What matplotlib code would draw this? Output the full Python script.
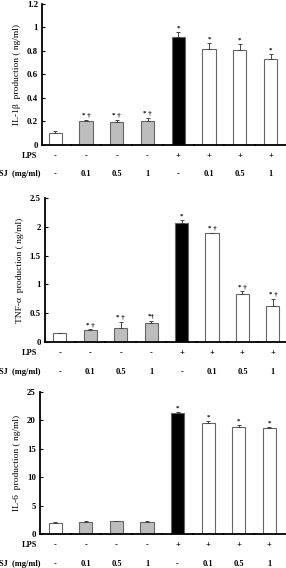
import numpy as np
import matplotlib
matplotlib.use("Agg")
import matplotlib.pyplot as plt
import matplotlib.transforms as mtransforms

plt.rcParams['font.family'] = ['Liberation Serif', 'DejaVu Serif']
plt.rcParams['font.weight'] = 'bold'

lps_labels = ['-', '-', '-', '-', '+', '+', '+', '+']
sj_labels = ['-', '0.1', '0.5', '1', '-', '0.1', '0.5', '1']
bar_colors = ['white', '#bdbdbd', '#bdbdbd', '#bdbdbd', 'black', 'white', 'white', 'white']

il1b = [0.10, 0.20, 0.195, 0.20, 0.92, 0.82, 0.81, 0.73]
il1b_err = [0.015, 0.015, 0.02, 0.03, 0.04, 0.05, 0.05, 0.045]
il1b_sig = ['', '* \u2020', '* \u2020', '* \u2020', '*', '*', '*', '*']

tnf = [0.15, 0.20, 0.25, 0.33, 2.07, 1.90, 0.84, 0.63]
tnf_err = [0.01, 0.02, 0.10, 0.04, 0.05, 0.0, 0.04, 0.12]
tnf_sig = ['', '* \u2020', '* \u2020', '*\u2020', '*', '* \u2020', '* \u2020', '* \u2020']

il6 = [2.0, 2.1, 2.2, 2.1, 21.3, 19.5, 18.8, 18.6]
il6_err = [0.15, 0.15, 0.15, 0.1, 0.2, 0.3, 0.3, 0.3]
il6_sig = ['', '', '', '', '*', '*', '*', '*']

panels = [
    (il1b, il1b_err, il1b_sig, 1.2, 0.2, 'IL-1\u03b2  production ( ng/ml)', [0.147, 0.745, 0.853, 0.248], (-0.43, 7.5)),
    (tnf, tnf_err, tnf_sig, 2.5, 0.5, 'TNF-\u03b1  production ( ng/ml)', [0.157, 0.398, 0.843, 0.253], (-0.49, 7.43)),
    (il6, il6_err, il6_sig, 25, 5, 'IL-6  production ( ng/ml)', [0.140, 0.060, 0.860, 0.250], (-0.5, 7.55)),
]

fig = plt.figure(figsize=(2.86, 5.68), dpi=100)
x = np.arange(8)
for vals, errs, sigs, ymax, step, ylabel, pos, xl in panels:
    ax = fig.add_axes(pos)
    ax.bar(x, vals, width=0.43, color=bar_colors, edgecolor='#666666', linewidth=0.8)
    ax.errorbar(x, vals, yerr=[np.zeros(8), errs], fmt='none', ecolor='#444444',
                elinewidth=0.7, capsize=1.5, capthick=0.7)
    for xi, v, e, s in zip(x, vals, errs, sigs):
        if s:
            ax.text(xi, v + e + ymax * 0.01, s, ha='center', va='bottom', fontsize=5)
    ax.set_ylim(0, ymax)
    ax.set_xlim(*xl)
    ax.set_yticks(np.arange(0, ymax + step / 2, step))
    ax.set_yticklabels([f'{t:g}' for t in np.arange(0, ymax + step / 2, step)], fontsize=6.3)
    ax.set_xticks([])
    ax.set_xticks(x[:-1] + 0.5, minor=True)
    ax.tick_params(axis='x', which='minor', length=1.5, width=1.2, direction='inout')
    ax.tick_params(axis='y', direction='in', length=2, width=0.8, pad=3)
    ax.set_ylabel(ylabel, fontsize=6.8, labelpad=4)
    for sp in ['top', 'right']:
        ax.spines[sp].set_visible(False)
    ax.spines['left'].set_linewidth(1.3)
    ax.spines['bottom'].set_linewidth(1.3)
    trans = mtransforms.blended_transform_factory(ax.transData, ax.transAxes)
    for xi, lp, sj in zip(x, lps_labels, sj_labels):
        ax.text(xi, -0.08, lp, transform=trans, ha='center', va='center', fontsize=6)
        ax.text(xi, -0.21, sj, transform=trans, ha='center', va='center', fontsize=6)
    ftrans = mtransforms.blended_transform_factory(fig.transFigure, ax.transAxes)
    ax.text(0.13, -0.08, 'LPS', transform=ftrans, ha='right', va='center', fontsize=6)
    ax.text(-0.005, -0.21, 'SJ  (mg/ml)', transform=ftrans, ha='left', va='center', fontsize=6)

fig.savefig('out.png', dpi=100)
